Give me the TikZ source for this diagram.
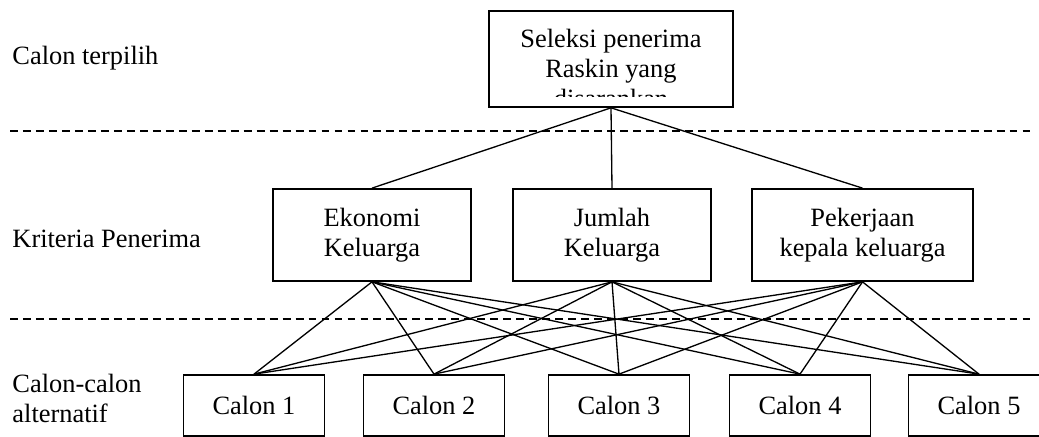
\documentclass[tikz,border=0pt]{standalone}
\usepackage{fontspec}
\setmainfont{Liberation Serif}
\begin{document}
\begin{tikzpicture}[x=0.4545pt,y=-0.4545pt,
  txt/.style={font=\fontsize{12}{13.6}\selectfont, inner sep=0pt},
  box/.style={draw, line width=0.8pt, inner sep=0pt, align=center, font=\fontsize{12}{13.6}\selectfont},
  crit/.style={box, minimum height=41.8pt},
  alt/.style={box, minimum width=64.1pt, minimum height=27.7pt},
  link/.style={line width=0.6pt},
  sep/.style={line width=0.7pt, dash pattern=on 3.6pt off 2.3pt}]
\useasboundingbox (0,0) rectangle (1039,437);
% dashed separators
\coordinate (d1a) at (10,131); \coordinate (d1b) at (1035,131);
\coordinate (d2a) at (10,319); \coordinate (d2b) at (1035,319);
\draw[sep] (d1a) -- (d1b);
\draw[sep] (d2a) -- (d2b);
% level labels
\node[txt, anchor=base west] (l1) at (12,65) {Calon terpilih};
\node[txt, anchor=base west] (l2) at (12,248) {Kriteria Penerima};
\node[txt, anchor=north west, align=left] (l3) at (12,374) {Calon-calon\\alternatif};
% goal box
\node[box, minimum width=110.9pt, minimum height=43.6pt] (goal) at (611,59) {};
\begin{scope}
\clip (489,11) rectangle (733,97);
\node[txt, anchor=north, align=center] (goaltxt) at (611,29) {Seleksi penerima\\Raskin yang\\disarankan};
\end{scope}
% criteria
\node[crit, minimum width=90pt] (c1) at (372,235) {Ekonomi\\Keluarga};
\node[crit, minimum width=90pt] (c2) at (612,235) {Jumlah\\Keluarga};
\node[crit, minimum width=100.4pt] (c3) at (862.5,235) {Pekerjaan\\kepala keluarga};
% alternatives
\node[alt] (a1) at (254,405.5) {Calon 1};
\node[alt] (a2) at (434,405.5) {Calon 2};
\node[alt] (a3) at (619,405.5) {Calon 3};
\node[alt] (a4) at (800,405.5) {Calon 4};
\node[alt] (a5) at (979,405.5) {Calon 5};
% links
\foreach \c in {c1,c2,c3}{\draw[link] (goal.south) -- (\c.north);}
\foreach \c in {c1,c2,c3}{\foreach \a in {a1,a2,a3,a4,a5}{\draw[link] (\c.south) -- (\a.north);}}
\end{tikzpicture}
\end{document}
